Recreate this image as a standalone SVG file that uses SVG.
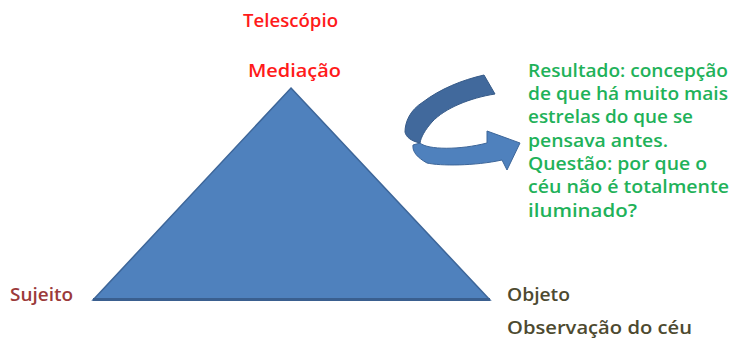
<svg xmlns="http://www.w3.org/2000/svg" width="733" height="338" viewBox="0 0 733 338">
  <style>
    text { font-family: "Open Sans", "Liberation Sans", sans-serif; font-weight: 600; font-size: 18px; }
    .red { fill: #ff1a1a; }
    .subj { fill: #9b3a3a; }
    .obj { fill: #4d4a30; }
    .green { fill: #1fb25a; }
  </style>
  <rect width="733" height="338" fill="#ffffff"/>

  <!-- mediation triangle -->
  <g id="triangle">
    <polygon points="291,88 490,300 93,300" fill="#4f81bd" stroke="#3d6699" stroke-width="1.5"/>
    <line x1="93" y1="299.5" x2="490" y2="299.5" stroke="#3a5f8f" stroke-width="3"/>
  </g>

  <!-- vertex labels -->
  <g id="mediacao">
    <text class="red" x="243" y="27" textLength="95" lengthAdjust="spacingAndGlyphs">Telescópio</text>
    <text class="red" x="248" y="77" textLength="93" lengthAdjust="spacingAndGlyphs">Mediação</text>
  </g>
  <g id="sujeito">
    <text class="subj" x="10" y="301" textLength="63" lengthAdjust="spacingAndGlyphs">Sujeito</text>
  </g>
  <g id="objeto">
    <text class="obj" x="507" y="301" textLength="63" lengthAdjust="spacingAndGlyphs">Objeto</text>
    <text class="obj" x="507" y="334" textLength="185" lengthAdjust="spacingAndGlyphs">Observação do céu</text>
  </g>

  <!-- curved arrow -->
  <g id="curved-arrow">
    <path d="M420,143 C428,150 460,150 487,143 L487,131 L520,143 L507,170 L502,160 C475,166 440,166 427,163 C418,158 412,152 413,145 Z" fill="#4f81bd" stroke="#3d6699" stroke-width="1"/>
    <path d="M484,75 L495,94 C470,98 445,108 432,122 C425,130 421,137 420,143 C411,141 406,137 405,132 C405,122 410,110 423,102 C440,89 462,80 484,75 Z" fill="#41699c" stroke="#365a88" stroke-width="1"/>
  </g>

  <!-- result text -->
  <g id="resultado">
    <text class="green" x="528" y="77" textLength="200" lengthAdjust="spacingAndGlyphs">Resultado: concepção</text>
    <text class="green" x="528" y="100" textLength="200" lengthAdjust="spacingAndGlyphs">de que há muito mais</text>
    <text class="green" x="528" y="123" textLength="165" lengthAdjust="spacingAndGlyphs">estrelas do que se</text>
    <text class="green" x="528" y="147" textLength="140" lengthAdjust="spacingAndGlyphs">pensava antes.</text>
    <text class="green" x="528" y="170" textLength="179" lengthAdjust="spacingAndGlyphs">Questão: por que o</text>
    <text class="green" x="528" y="193" textLength="201" lengthAdjust="spacingAndGlyphs">céu não é totalmente</text>
    <text class="green" x="528" y="217" textLength="109" lengthAdjust="spacingAndGlyphs">iluminado?</text>
  </g>
</svg>
